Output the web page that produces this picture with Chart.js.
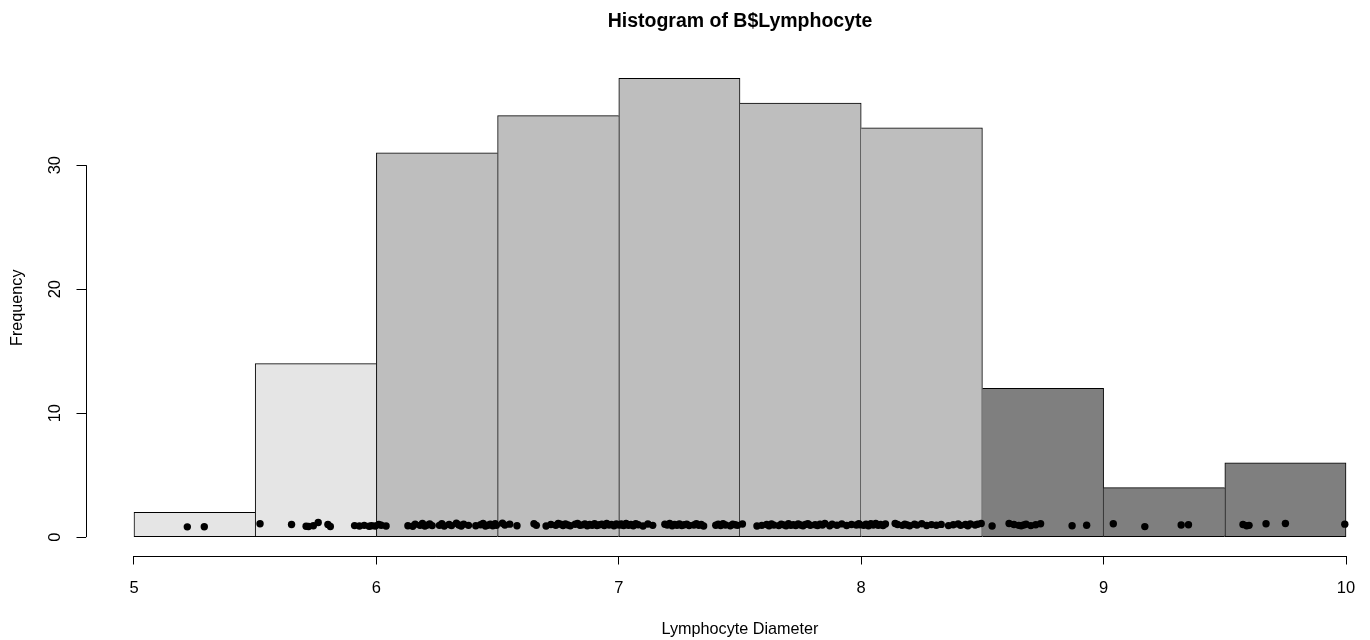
<!DOCTYPE html>
<html>
<head>
<meta charset="utf-8">
<title>Histogram of B$Lymphocyte</title>
<script src="https://cdn.jsdelivr.net/npm/chart.js@4.4.1/dist/chart.umd.min.js"></script>
<style>
  html, body { margin: 0; padding: 0; background: #fff; overflow: hidden; }
  #wrap { width: 1420px; height: 640px; }
</style>
</head>
<body>
<div id="wrap"><canvas id="hist" width="1420" height="640"></canvas></div>
<script>
'use strict';

// histogram bins (breaks) and counts per bin
const breaks = [5, 5.5, 6, 6.5, 7, 7.5, 8, 8.5, 9, 9.5, 10];
const counts = [2, 14, 31, 34, 37, 35, 33, 12, 4, 6];
const binColors = ['#e5e5e5', '#e5e5e5', '#bebebe', '#bebebe', '#bebebe',
                   '#bebebe', '#bebebe', '#7f7f7f', '#7f7f7f', '#7f7f7f'];

// axis ticks
const xTicks = [5, 6, 7, 8, 9, 10];
const yTicks = [0, 10, 20, 30];

// jittered strip of the raw measurements
const pointX = [
  5.22, 5.29,
  5.52, 5.65, 5.71, 5.72, 5.74, 5.76, 5.80, 5.81, 5.91, 5.93, 5.95, 5.97, 5.98, 5.995,
  6.01, 6.02, 6.04, 6.13, 6.15, 6.16, 6.18, 6.19, 6.20, 6.21, 6.22, 6.23, 6.26, 6.27, 6.28, 6.30,
  6.31, 6.33, 6.34, 6.35, 6.36, 6.38, 6.41, 6.43, 6.44, 6.45, 6.46, 6.47, 6.48, 6.49, 6.495,
  6.52, 6.53, 6.55, 6.58, 6.65, 6.66, 6.70, 6.72, 6.74, 6.75, 6.76, 6.77, 6.78, 6.79, 6.80, 6.82,
  6.83, 6.84, 6.85, 6.86, 6.87, 6.88, 6.89, 6.90, 6.91, 6.92, 6.93, 6.94, 6.95, 6.96, 6.97, 6.98,
  6.99, 6.995,
  7.005, 7.01, 7.02, 7.03, 7.04, 7.05, 7.06, 7.07, 7.08, 7.10, 7.12, 7.14, 7.19, 7.20, 7.21, 7.22,
  7.23, 7.24, 7.25, 7.26, 7.27, 7.28, 7.29, 7.31, 7.32, 7.33, 7.34, 7.35, 7.40, 7.41, 7.42, 7.43,
  7.44, 7.46, 7.47, 7.48, 7.49,
  7.51, 7.57, 7.59, 7.61, 7.62, 7.63, 7.64, 7.66, 7.67, 7.68, 7.69, 7.70, 7.71, 7.72, 7.73, 7.74,
  7.75, 7.76, 7.77, 7.78, 7.79, 7.81, 7.82, 7.83, 7.84, 7.85, 7.87, 7.88, 7.90, 7.92, 7.94, 7.96,
  7.98, 7.99, 7.995,
  8.01, 8.02, 8.03, 8.04, 8.05, 8.06, 8.07, 8.08, 8.09, 8.10, 8.14, 8.15, 8.17, 8.18, 8.19, 8.20,
  8.22, 8.23, 8.25, 8.27, 8.29, 8.31, 8.33, 8.36, 8.38, 8.40, 8.41, 8.43, 8.44, 8.45, 8.47, 8.48,
  8.495,
  8.54, 8.61, 8.63, 8.65, 8.66, 8.67, 8.68, 8.70, 8.72, 8.74, 8.87, 8.93,
  9.04, 9.17, 9.32, 9.35,
  9.575, 9.59, 9.60, 9.67, 9.75, 9.995
];
const pointY = [
  0.83, 0.84,
  1.08, 1.02, 0.88, 0.86, 0.92, 1.18, 1.03, 0.86, 0.93, 0.90, 0.95, 0.88, 0.92, 0.90,
  1.02, 0.96, 0.90, 0.92, 0.88, 1.05, 0.95, 1.10, 0.90, 0.97, 1.06, 0.93, 0.95, 1.08, 0.90, 1.02,
  0.93, 1.12, 0.98, 0.90, 1.05, 0.95, 0.92, 1.00, 1.10, 0.90, 0.96, 1.04, 0.92, 1.08, 0.95,
  1.12, 0.97, 1.05, 0.92, 1.08, 0.95, 0.90, 1.02, 0.95, 1.10, 1.04, 0.93, 1.06, 0.98, 0.92, 1.04,
  1.10, 0.95, 0.99, 1.06, 0.92, 1.02, 0.96, 1.08, 0.94, 1.00, 1.05, 0.93, 1.10, 0.97, 1.03, 0.92,
  1.07, 1.00,
  0.98, 1.06, 0.94, 1.10, 0.96, 1.02, 0.92, 1.08, 1.00, 0.90, 1.06, 0.95, 1.04, 0.97, 1.10, 0.92,
  1.03, 0.96, 1.07, 0.93, 1.00, 1.05, 0.94, 0.98, 1.09, 0.95, 1.02, 0.90, 0.96, 1.04, 0.93, 1.08,
  0.98, 0.92, 1.05, 1.00, 0.95,
  1.06, 0.90, 0.95, 1.02, 0.92, 1.07, 0.97, 0.93, 1.04, 0.99, 0.91, 1.08, 0.95, 1.01, 0.94, 1.06,
  0.98, 0.92, 1.03, 1.09, 0.96, 1.00, 0.93, 1.05, 0.97, 1.10, 0.92, 1.04, 0.96, 1.07, 0.94, 1.02,
  0.98, 1.08, 1.00,
  0.95, 1.05, 0.92, 1.08, 0.98, 1.10, 0.96, 1.02, 0.93, 1.06, 1.10, 1.02, 0.95, 1.05, 0.98, 0.92,
  1.04, 0.97, 1.08, 0.94, 1.01, 0.96, 1.03, 0.93, 1.00, 1.07, 0.95, 1.02, 0.92, 1.06, 0.98, 1.04,
  1.10,
  0.90, 1.10, 1.02, 0.95, 0.92, 0.98, 1.04, 0.93, 1.00, 1.08, 0.92, 0.96,
  1.08, 0.85, 0.98, 1.00,
  1.02, 0.92, 0.95, 1.08, 1.10, 1.05
];

const FONT = "'Liberation Sans', Arial, sans-serif";

// bins as bars centred on their mid point
const binData = counts.map((c, i) => ({ x: (breaks[i] + breaks[i + 1]) / 2, y: c }));
const stripData = pointX.map((v, i) => ({ x: v, y: pointY[i] }));

// only one border on shared edges, the taller bar owns it
function binBorder(ctx) {
  const i = ctx.dataIndex;
  const c = counts[i];
  const left = (i === 0 || c >= counts[i - 1]) ? 1 : 0;
  const right = (i === counts.length - 1 || c > counts[i + 1]) ? 1 : 0;
  return { top: 1, bottom: 1, left: left, right: right };
}

// R draws axis lines only over the tick range
const rAxisLines = {
  id: 'rAxisLines',
  afterDraw(chart) {
    const { ctx, chartArea } = chart;
    const x = chart.scales.x;
    const y = chart.scales.y;
    const yb = Math.round(chartArea.bottom) + 0.5;
    const xl = Math.round(chartArea.left) + 0.5;
    ctx.save();
    ctx.strokeStyle = '#000';
    ctx.lineWidth = 1;
    ctx.beginPath();
    ctx.moveTo(x.getPixelForValue(xTicks[0]), yb);
    ctx.lineTo(x.getPixelForValue(xTicks[xTicks.length - 1]), yb);
    ctx.moveTo(xl, y.getPixelForValue(yTicks[0]));
    ctx.lineTo(xl, y.getPixelForValue(yTicks[yTicks.length - 1]));
    ctx.stroke();
    ctx.restore();
  }
};

new Chart(document.getElementById('hist'), {
  type: 'bar',
  data: {
    datasets: [
      {
        type: 'scatter',
        data: stripData,
        order: 0,
        pointRadius: 3.7,
        pointBackgroundColor: '#000',
        pointBorderWidth: 0
      },
      {
        type: 'bar',
        data: binData,
        order: 1,
        backgroundColor: binColors,
        borderColor: '#000',
        borderWidth: binBorder,
        borderSkipped: false,
        barPercentage: 1,
        categoryPercentage: 1
      }
    ]
  },
  plugins: [rAxisLines],
  options: {
    responsive: false,
    animation: false,
    layout: { padding: { top: 0, left: 0, right: 25.5, bottom: 0 } },
    plugins: {
      legend: { display: false },
      tooltip: { enabled: false },
      title: {
        display: true,
        text: 'Histogram of B$Lymphocyte',
        fullSize: false,
        color: '#000',
        font: { family: FONT, size: 19.5, weight: 'bold' },
        padding: { top: 10.3, bottom: 26.3 }
      }
    },
    scales: {
      x: {
        type: 'linear',
        min: 4.8,
        max: 10.2,
        offset: false,
        afterBuildTicks: (scale) => { scale.ticks = xTicks.map(v => ({ value: v })); },
        afterFit: (scale) => { scale.height = 84.5; },
        border: { display: false },
        grid: { display: true, offset: false, drawOnChartArea: false, drawTicks: true, tickLength: 9, color: '#000' },
        ticks: { color: '#000', font: { family: FONT, size: 16.5 }, padding: 14, maxRotation: 0, autoSkip: false },
        title: {
          display: true,
          text: 'Lymphocyte Diameter',
          color: '#000',
          font: { family: FONT, size: 16.2 },
          padding: { top: 0, bottom: 0.6 }
        }
      },
      y: {
        type: 'linear',
        min: -1.48,
        max: 38.48,
        afterBuildTicks: (scale) => { scale.ticks = yTicks.map(v => ({ value: v })); },
        afterFit: (scale) => { scale.width = 85.5; },
        border: { display: false },
        grid: { display: true, drawOnChartArea: false, drawTicks: true, tickLength: 9, color: '#000' },
        ticks: {
          color: '#000',
          font: { family: FONT, size: 16.5 },
          padding: 12,
          minRotation: 90,
          maxRotation: 90,
          crossAlign: 'center',
          autoSkip: false
        },
        title: {
          display: true,
          text: 'Frequency',
          color: '#000',
          font: { family: FONT, size: 16.2 },
          padding: { top: 7.4, bottom: 0 }
        }
      }
    }
  }
});
</script>
</body>
</html>
